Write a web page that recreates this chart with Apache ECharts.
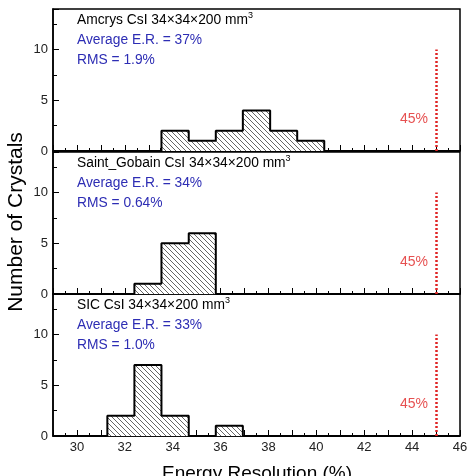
<!DOCTYPE html>
<html>
<head>
<meta charset="utf-8">
<script src="https://cdn.jsdelivr.net/npm/echarts@6/dist/echarts.min.js"></script>
<style>
  html, body { margin: 0; padding: 0; background: #fff; }
  #chart { width: 471px; height: 476px; }
</style>
</head>
<body>
<div id="chart"></div>
<script>
// bin edges (29..46 split into 15 bins)
const binEdges = [29, 30.13, 31.27, 32.4, 33.53, 34.67, 35.8, 36.93, 38.07, 39.2, 40.33, 41.47, 42.6, 43.73, 44.87, 46];
const amcrysCounts = [0, 0, 0, 0, 2, 1, 2, 4, 2, 1, 0, 0, 0, 0, 0];
const saintGobainCounts = [0, 0, 0, 1, 5, 6, 0, 0, 0, 0, 0, 0, 0, 0, 0];
const sicCounts = [0, 0, 2, 7, 2, 0, 1, 0, 0, 0, 0, 0, 0, 0, 0];

const panelTitles = ['Amcrys CsI 34×34×200 mm', 'Saint_Gobain CsI 34×34×200 mm', 'SIC CsI 34×34×200 mm'];
const averageLabels = ['Average E.R. = 37%', 'Average E.R. = 34%', 'Average E.R. = 33%'];
const rmsLabels = ['RMS = 1.9%', 'RMS = 0.64%', 'RMS = 1.0%'];
const cutValue = 45;
const cutLabel = '45%';

const FONT = '"Liberation Sans", Arial, sans-serif';
const BLUE = '#2d2db4';
const RED = '#e02424';

// hatch pattern (\\\ lines)
function makeHatch() {
  const c = document.createElement('canvas');
  c.width = 5;
  c.height = 5;
  const ctx = c.getContext('2d');
  ctx.fillStyle = '#fff';
  ctx.fillRect(0, 0, 5, 5);
  ctx.strokeStyle = '#666';
  ctx.lineWidth = 1;
  ctx.beginPath();
  ctx.moveTo(-1, -1);
  ctx.lineTo(6, 6);
  ctx.moveTo(-1, 4);
  ctx.lineTo(1, 6);
  ctx.moveTo(4, -1);
  ctx.lineTo(6, 1);
  ctx.stroke();
  return c;
}
const hatch = makeHatch();

// step outline of a histogram
function stepPoints(counts) {
  const pts = [[binEdges[0], 0]];
  counts.forEach((n, i) => {
    pts.push([binEdges[i], n]);
    pts.push([binEdges[i + 1], n]);
  });
  pts.push([binEdges[binEdges.length - 1], 0]);
  return pts;
}

const chart = echarts.init(document.getElementById('chart'));
const panels = [amcrysCounts, saintGobainCounts, sicCounts];
const gridTops = [9, 152, 294];
const gridHeight = 142;

const grid = [];
const xAxis = [];
const yAxis = [];
const series = [];
const graphic = [];

panels.forEach((counts, i) => {
  grid.push({
    left: 53, right: 11, top: gridTops[i], height: gridHeight,
    show: true, borderColor: '#000', borderWidth: 1.5, backgroundColor: '#fff',
  });
  xAxis.push({
    type: 'value', gridIndex: i, min: 29, max: 46, interval: 1,
    axisLine: { show: true, lineStyle: { color: '#000', width: 1.5 } },
    axisTick: { show: true, inside: true, length: 6, lineStyle: { color: '#000' } },
    minorTick: { show: true, splitNumber: 2, length: 3, lineStyle: { color: '#000' } },
    splitLine: { show: false },
    axisLabel: {
      show: i === 2,
      fontFamily: FONT, fontSize: 13, color: '#222', margin: 5,
      formatter: (v) => (v % 2 === 0 ? String(v) : ''),
    },
  });
  yAxis.push({
    type: 'value', gridIndex: i, min: 0, max: 14, interval: 5,
    axisLine: { show: true, lineStyle: { color: '#000', width: 1.5 } },
    axisTick: { show: true, inside: true, length: 6, lineStyle: { color: '#000' } },
    minorTick: { show: true, splitNumber: 2, length: 4, lineStyle: { color: '#000' } },
    splitLine: { show: false },
    axisLabel: {
      fontFamily: FONT, fontSize: 13, color: '#222', margin: 5, showMaxLabel: false,
      formatter: (v) => (v % 5 === 0 ? String(v) : ''),
    },
  });
  series.push({
    type: 'line', xAxisIndex: i, yAxisIndex: i,
    data: stepPoints(counts),
    symbol: 'none',
    lineStyle: { color: '#000', width: 2 },
    areaStyle: { color: { image: hatch, repeat: 'repeat' }, opacity: 1 },
    silent: true,
    markLine: {
      silent: true, symbol: 'none', label: { show: false },
      lineStyle: { color: RED, width: 2.5, type: [2, 2] },
      data: [[{ coord: [cutValue, 0] }, { coord: [cutValue, 10] }]],
    },
  });
  series.push({
    type: 'scatter', xAxisIndex: i, yAxisIndex: i,
    data: [[cutValue, 3.1]], symbolSize: 0, silent: true,
    label: {
      show: true, position: 'left', distance: 8, formatter: cutLabel,
      color: RED, fontFamily: FONT, fontSize: 14,
    },
  });
  graphic.push({
    type: 'text', x: 77, y: gridTops[i] + 11,
    style: {
      text: panelTitles[i] + '{sup|3}',
      font: '13.8px ' + FONT, fill: '#000', verticalAlign: 'middle',
      rich: { sup: { fontSize: 9, verticalAlign: 'top', padding: [0, 0, 8, 0], fill: '#000' } },
    },
  });
  graphic.push({
    type: 'text', x: 77, y: gridTops[i] + 31,
    style: { text: averageLabels[i], font: '13.8px ' + FONT, fill: BLUE, verticalAlign: 'middle' },
  });
  graphic.push({
    type: 'text', x: 77, y: gridTops[i] + 51,
    style: { text: rmsLabels[i], font: '13.8px ' + FONT, fill: BLUE, verticalAlign: 'middle' },
  });
});

graphic.push({
  type: 'text', x: 16, y: 222, rotation: Math.PI / 2,
  style: {
    text: 'Number of Crystals', font: '21px ' + FONT, fill: '#000',
    align: 'center', verticalAlign: 'middle',
  },
});
graphic.push({
  type: 'text', x: 257, y: 474,
  style: {
    text: 'Energy Resolution (%)', font: '19px ' + FONT, fill: '#000',
    align: 'center', verticalAlign: 'middle',
  },
});

chart.setOption({
  animation: false,
  backgroundColor: '#fff',
  grid,
  xAxis,
  yAxis,
  series,
  graphic,
});
</script>
</body>
</html>
